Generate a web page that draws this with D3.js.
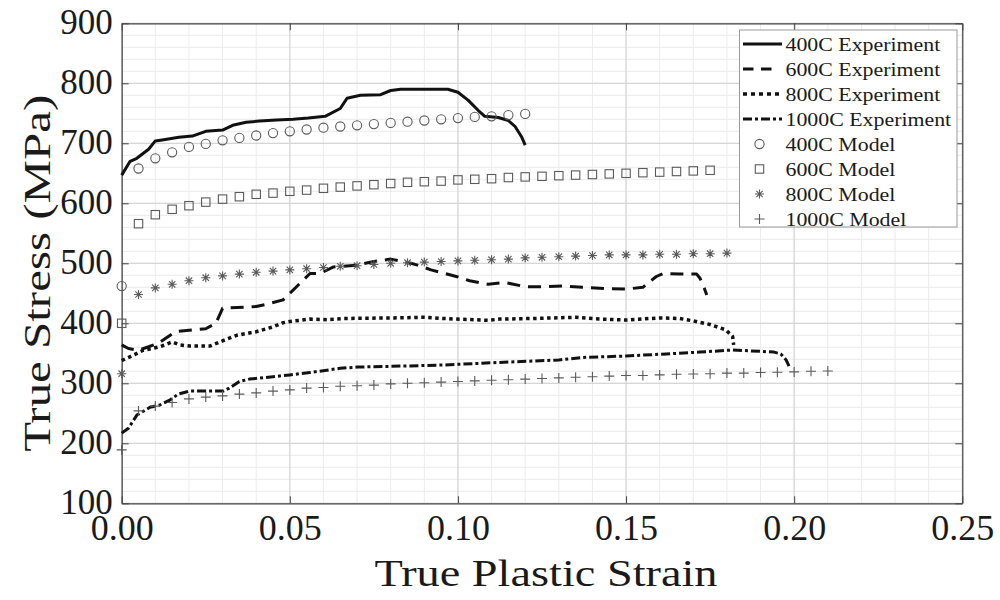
<!DOCTYPE html>
<html><head><meta charset="utf-8">
<script src="https://cdn.jsdelivr.net/npm/d3@7"></script>
<style>body{margin:0;background:#fff}svg{display:block}text{font-family:"Liberation Serif","Times New Roman",serif;fill:#1a1a1a}</style>
</head><body><svg id="c" width="1000" height="600"></svg>
<script>
const xTicks = [0, 0.05, 0.10, 0.15, 0.20, 0.25];
const yTicks = [100, 200, 300, 400, 500, 600, 700, 800, 900];
const xLabel = "True Plastic Strain";
const yLabel = "True Stress (MPa)";
const seriesNames = ["400C Experiment","600C Experiment","800C Experiment","1000C Experiment","400C Model","600C Model","800C Model","1000C Model"];

const exp400 = [[0,647],[0.0025,670],[0.0045,675],[0.008,690],[0.01,704],[0.0125,706],[0.017,710],[0.021,712],[0.025,720],[0.03,722],[0.033,730],[0.037,735],[0.041,737],[0.046,739],[0.051,740],[0.0555,742],[0.0605,745],[0.065,758],[0.067,775],[0.071,780],[0.077,781],[0.08,788],[0.083,790],[0.097,790],[0.1,785],[0.103,772],[0.106,755],[0.108,745],[0.112,743],[0.115,738],[0.117,728],[0.119,710],[0.12,697]];
const exp600 = [[0,364],[0.002,358],[0.005,355],[0.011,367],[0.016,386],[0.023,390],[0.025,391],[0.028,400],[0.030,425],[0.040,428],[0.044,433],[0.048,439],[0.052,461],[0.056,483],[0.059,483],[0.063,494],[0.070,497],[0.075,503],[0.080,507],[0.086,500],[0.088,497],[0.092,489],[0.0995,478],[0.1035,471],[0.109,465],[0.114,468],[0.120,461],[0.126,461],[0.131,462],[0.137,460],[0.144,458],[0.150,457],[0.155,460],[0.159,478],[0.161,483],[0.166,482],[0.171,482],[0.172,475],[0.1733,458],[0.174,447]];
const exp800 = [[0,338],[0.0024,344],[0.0064,355],[0.0114,361],[0.015,369],[0.0173,364],[0.0203,362],[0.0262,362],[0.0292,369],[0.0342,380],[0.040,386],[0.045,394],[0.048,401],[0.050,403],[0.056,407],[0.061,406],[0.066,408],[0.081,409],[0.090,410],[0.0955,408],[0.109,405],[0.1124,407],[0.1223,408],[0.135,410],[0.142,407],[0.15,405.5],[0.16,409],[0.166,408],[0.17,404],[0.175,398],[0.1797,389],[0.1817,378],[0.182,364]];
const exp1000 = [[0,217],[0.002,225],[0.0045,247],[0.0084,260],[0.0114,264],[0.0143,272],[0.0168,282],[0.0203,287],[0.0302,287],[0.032,292],[0.035,303],[0.038,307],[0.045,311],[0.05,314],[0.056,318],[0.065,325],[0.07,327],[0.0857,329],[0.0955,330.5],[0.1055,333],[0.1154,335.5],[0.1223,337],[0.13,339],[0.137,343],[0.15,345.5],[0.162,349],[0.172,352],[0.1817,355.5],[0.1906,353],[0.194,352],[0.196,349],[0.1976,339],[0.1985,328]];

const modelStep = 0.005;
const model400 = [462,658,675,685,694,699,705,709,713,717,720,723,726,728,730,732,734,736,738,740,742,744,745,747,749];
const model600 = [400,566,581,590,596,602,607,611,615,617,620,622,625,627,629,631,633,635,636,637,639,640,641,643,644,645,646,647,648,649,650,651,652,653,654,655];
const model800 = [316,448,459,465,471,476,479,482,485,487,489,491,493,495,496,498,500,501,502,503,504,505,506,507,509,510,511,512,513,514,514,514,515,515,516,516,517];
const model1000 = [189,254,262,268,274,277,279,282,284,287,289,292,293,295,296,297,299,300,301,302,303,304,305,306,307,308,309,310,311,312,313,313,314,315,315.5,316,317,317,318,318.5,319,320,320.5];

const svg = d3.select("#c");
const L = 121.7, R = 962.3, T = 23.3, B = 503.3;
const x = d3.scaleLinear().domain([0, 0.25]).range([L, R]);
const y = d3.scaleLinear().domain([100, 900]).range([B, T]);

// grid
const minorX = d3.range(0, 0.2501, 0.01), minorY = d3.range(100, 901, 20);
const g = svg.append("g");
g.selectAll(".mx").data(minorX).join("line").attr("x1", d=>x(d)).attr("x2", d=>x(d)).attr("y1", T).attr("y2", B).attr("stroke", "#ececec").attr("stroke-width", 1);
g.selectAll(".my").data(minorY).join("line").attr("y1", d=>y(d)).attr("y2", d=>y(d)).attr("x1", L).attr("x2", R).attr("stroke", "#ececec").attr("stroke-width", 1);
g.selectAll(".Mx").data(xTicks).join("line").attr("x1", d=>x(d)).attr("x2", d=>x(d)).attr("y1", T).attr("y2", B).attr("stroke", "#d0d0d0").attr("stroke-width", 1);
g.selectAll(".My").data(yTicks).join("line").attr("y1", d=>y(d)).attr("y2", d=>y(d)).attr("x1", L).attr("x2", R).attr("stroke", "#d0d0d0").attr("stroke-width", 1);

// axes (inward ticks)
const ax = svg.append("g").attr("transform", `translate(0,${B})`).call(d3.axisBottom(x).tickValues(xTicks).tickSizeInner(-7).tickSizeOuter(0).tickFormat(d3.format(".2f")));
const ay = svg.append("g").attr("transform", `translate(${L},0)`).call(d3.axisLeft(y).tickValues(yTicks).tickSizeInner(-7).tickSizeOuter(0));
const axTop = svg.append("g").attr("transform", `translate(0,${T})`).call(d3.axisTop(x).tickValues(xTicks).tickSizeInner(-7).tickSizeOuter(0).tickFormat(""));
const ayR = svg.append("g").attr("transform", `translate(${R},0)`).call(d3.axisRight(y).tickValues(yTicks).tickSizeInner(-7).tickSizeOuter(0).tickFormat(""));
[ax, ay, axTop, ayR].forEach(a => { a.select(".domain").attr("stroke", "#444").attr("stroke-width", 1.2); a.selectAll(".tick line").attr("stroke", "#444"); });
ax.selectAll(".tick text").attr("font-size", 36).attr("font-family", "Liberation Serif").attr("fill", "#222").attr("y", 11).attr("dy", "0.71em");
ay.selectAll(".tick text").attr("font-size", 35).attr("font-family", "Liberation Serif").attr("fill", "#222").attr("x", -9).attr("dy", "0.3em");

svg.append("text").attr("x", (L+R)/2 + 4).attr("y", 586).attr("text-anchor", "middle").attr("font-size", 37)
  .attr("textLength", 343).attr("lengthAdjust", "spacingAndGlyphs").text(xLabel);
svg.append("text").attr("transform", `translate(50,${(T+B)/2 + 10}) rotate(-90)`).attr("text-anchor", "middle").attr("font-size", 37)
  .attr("textLength", 357).attr("lengthAdjust", "spacingAndGlyphs").text(yLabel);

// lines
const line = d3.line().x(d=>x(d[0])).y(d=>y(d[1]));
const styles = [
  {data: exp400, dash: null, w: 3, ldash: null},
  {data: exp600, dash: "13,8", w: 3, ldash: "10.5,7.5"},
  {data: exp800, dash: "3.5,3.5", w: 3.5, ldash: "4,4"},
  {data: exp1000, dash: "9,3,3,3", w: 3, ldash: "9,3,3,3"}
];
styles.forEach(s => svg.append("path").datum(s.data).attr("d", line).attr("fill", "none").attr("stroke", "#111").attr("stroke-width", s.w).attr("stroke-dasharray", s.dash).attr("stroke-linejoin", "round"));

// markers
const mk = "#5a5a5a";
function drawMarker(sel, type) {
  if (type === "circle") sel.append("circle").attr("r", 4.6).attr("fill", "none").attr("stroke", mk).attr("stroke-width", 1.1);
  else if (type === "square") sel.append("rect").attr("x", -4.2).attr("y", -4.2).attr("width", 8.4).attr("height", 8.4).attr("fill", "none").attr("stroke", mk).attr("stroke-width", 1.1);
  else if (type === "star") sel.append("path").attr("d", "M-4.5,0H4.5M0,-4.5V4.5M-3.2,-3.2L3.2,3.2M-3.2,3.2L3.2,-3.2").attr("stroke", mk).attr("stroke-width", 1.1);
  else sel.append("path").attr("d", "M-5,0H5M0,-5V5").attr("stroke", mk).attr("stroke-width", 1.1);
}
const models = [[model400,"circle"],[model600,"square"],[model800,"star"],[model1000,"plus"]];
models.forEach(([vals, type]) => {
  svg.append("g").selectAll("g").data(vals).join("g")
    .attr("transform", (d,i) => `translate(${x(i*modelStep)},${y(d)})`)
    .each(function(){ drawMarker(d3.select(this), type); });
});

// legend
const lg = svg.append("g");
lg.append("rect").attr("x", 739.5).attr("y", 30).attr("width", 217.5).attr("height", 197).attr("fill", "#fff").attr("stroke", "#999").attr("stroke-width", 1);
seriesNames.forEach((name, i) => {
  const cy = 44 + i*25;
  if (i < 4) {
    lg.append("line").attr("x1", 743).attr("x2", i === 1 ? 773 : 782).attr("y1", cy).attr("y2", cy).attr("stroke", "#111").attr("stroke-width", styles[i].w).attr("stroke-dasharray", styles[i].ldash);
  } else {
    drawMarker(lg.append("g").attr("transform", `translate(759.5,${cy})`), models[i-4][1]);
  }
  const t = lg.append("text").attr("x", 785.5).attr("y", cy).attr("dy", "0.35em").attr("font-size", 19).text(name);
  const len = t.node().getComputedTextLength();
  t.attr("textLength", len * 1.15).attr("lengthAdjust", "spacingAndGlyphs");
});
</script></body></html>
